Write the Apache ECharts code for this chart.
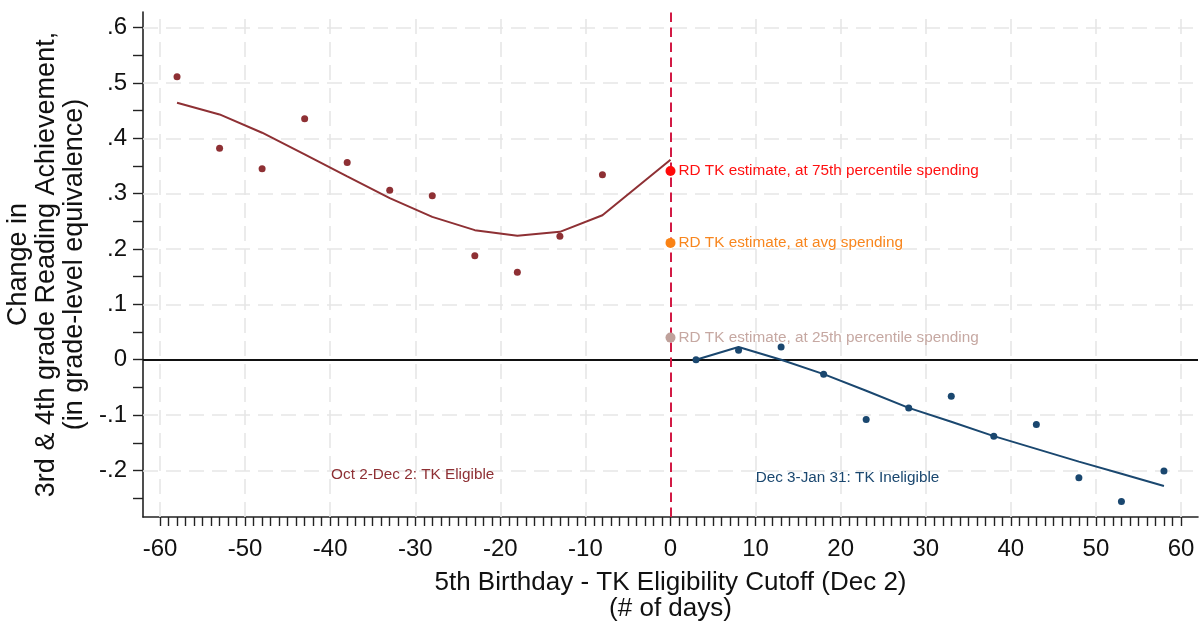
<!DOCTYPE html>
<html>
<head>
<meta charset="utf-8">
<script src="https://cdn.jsdelivr.net/npm/echarts@6/dist/echarts.min.js"></script>
<style>
  html, body { margin: 0; padding: 0; background: #fff; }
  #chart { width: 1203px; height: 622px; }
</style>
</head>
<body>
<div id="chart"></div>
<script>
// Binned means (every 5 days) of the change in reading achievement
const leftBinX = [-58, -53, -48, -43, -38, -33, -28, -23, -18, -13, -8];
const leftBinY = [0.511, 0.382, 0.345, 0.435, 0.356, 0.306, 0.296, 0.188, 0.158, 0.223, 0.334];
const rightBinX = [3, 8, 13, 18, 23, 28, 33, 38, 43, 48, 53, 58];
const rightBinY = [0.000, 0.017, 0.023, -0.026, -0.108, -0.087, -0.066, -0.138, -0.117, -0.213, -0.256, -0.201];

// Local fits on each side of the cutoff
const leftFitX = [-58, -53, -48, -43, -38, -33, -28, -23, -18, -13, -8, 0];
const leftFitY = [0.464, 0.443, 0.410, 0.371, 0.331, 0.292, 0.258, 0.234, 0.224, 0.231, 0.261, 0.361];
const rightFitX = [3, 8, 13, 18, 23, 28, 33, 38, 43, 48, 53, 58];
const rightFitY = [0.000, 0.023, 0.000, -0.026, -0.056, -0.087, -0.112, -0.138, -0.161, -0.184, -0.206, -0.228];

// RD estimates at the cutoff
const estimateNames = [
  'RD TK estimate, at 75th percentile spending',
  'RD TK estimate, at avg spending',
  'RD TK estimate, at 25th percentile spending'
];
const estimateValues = [0.341, 0.211, 0.040];
const estimateColors = ['#FF0A0A', '#FA8214', '#BFA19B'];
const estimateTextColors = ['#FF1010', '#F8861E', '#C6A8A2'];

// Region annotations
const regionTexts = ['Oct 2-Dec 2: TK Eligible', 'Dec 3-Jan 31: TK Ineligible'];
const regionAnchors = [[-30.3, -0.207], [20.8, -0.214]];

// Axis ticks, labels and grid
const xLabelVals = [-60, -50, -40, -30, -20, -10, 0, 10, 20, 30, 40, 50, 60];
const xTickVals = Array.from({ length: 121 }, (_, i) => i - 60);
const yLabelVals = [-0.2, -0.1, 0, 0.1, 0.2, 0.3, 0.4, 0.5, 0.6];
const yLabelText = ['-.2', '-.1', '0', '.1', '.2', '.3', '.4', '.5', '.6'];
const yTickVals = [-0.25, -0.2, -0.15, -0.1, -0.05, 0, 0.05, 0.1, 0.15, 0.2, 0.25, 0.3, 0.35, 0.4, 0.45, 0.5, 0.55, 0.6];
const gridXVals = [-60, -50, -40, -30, -20, -10, 10, 20, 30, 40, 50, 60];
const gridYVals = [-0.2, -0.1, 0.1, 0.2, 0.3, 0.4, 0.5, 0.6];

const MAROON = '#8E3034';
const NAVY = '#1A476F';
const FONT = "'Liberation Sans', Arial, sans-serif";

const zip = (xs, ys) => xs.map((x, i) => [x, ys[i]]);

const chart = echarts.init(document.getElementById('chart'), null, { renderer: 'canvas' });

const estimateSeries = estimateNames.map((name, i) => ({
  type: 'scatter',
  name: name,
  data: [[0, estimateValues[i]]],
  symbol: 'circle',
  symbolSize: 10,
  itemStyle: { color: estimateColors[i], opacity: 1 },
  z: 6,
  label: {
    show: true,
    position: 'right',
    distance: 3,
    formatter: name,
    color: estimateTextColors[i],
    fontSize: 15.3,
    fontFamily: FONT
  }
}));

const regionSeries = regionTexts.map((t, i) => ({
  type: 'scatter',
  data: [regionAnchors[i]],
  symbolSize: 0,
  itemStyle: { opacity: 1 },
  z: 3,
  label: {
    show: true,
    position: 'inside',
    formatter: t,
    color: i === 0 ? MAROON : NAVY,
    fontSize: 15.3,
    fontFamily: FONT
  }
}));

chart.setOption({
  animation: false,
  backgroundColor: '#ffffff',
  grid: { left: 143, right: 5, top: 12, bottom: 105, outerBoundsMode: 'none', containLabel: false },
  xAxis: {
    type: 'value',
    min: -62,
    max: 62,
    name: '5th Birthday - TK Eligibility Cutoff (Dec 2)\n(# of days)',
    nameLocation: 'middle',
    nameGap: 53,
    nameTextStyle: { fontSize: 26, color: '#111', fontFamily: FONT, lineHeight: 26 },
    axisLine: { onZero: false, lineStyle: { color: '#222', width: 1.6 } },
    axisTick: { customValues: xTickVals, length: 9, lineStyle: { color: '#222', width: 1.4 } },
    axisLabel: {
      customValues: xLabelVals,
      fontSize: 24,
      margin: 20,
      color: '#111',
      fontFamily: FONT
    },
    splitLine: { show: false }
  },
  yAxis: {
    type: 'value',
    min: -0.284,
    max: 0.628,
    name: 'Change in\n3rd & 4th grade Reading Achievement,\n(in grade-level equivalence)',
    nameLocation: 'middle',
    nameRotate: 90,
    nameGap: 50,
    nameTextStyle: { fontSize: 27, color: '#111', fontFamily: FONT, lineHeight: 28 },
    axisLine: { onZero: false, lineStyle: { color: '#222', width: 1.6 } },
    axisTick: { customValues: yTickVals, length: 10, lineStyle: { color: '#222', width: 1.4 } },
    axisLabel: {
      customValues: yLabelVals,
      fontSize: 24,
      margin: 16,
      color: '#111',
      fontFamily: FONT,
      formatter: (v) => {
        const k = yLabelVals.findIndex(u => Math.abs(u - v) < 1e-9);
        return k >= 0 ? yLabelText[k] : '';
      }
    },
    splitLine: { show: false }
  },
  series: [
    {
      // dashed reference grid
      type: 'line',
      data: [],
      z: 1,
      silent: true,
      markLine: {
        z: 1,
        silent: true,
        symbol: 'none',
        label: { show: false },
        lineStyle: { color: '#E6E6E6', width: 1.6, type: [15, 8] },
        data: gridXVals.map(v => ({ xAxis: v })).concat(gridYVals.map(v => ({ yAxis: v })))
      }
    },
    {
      // zero line and cutoff line
      type: 'line',
      data: [],
      z: 2,
      silent: true,
      markLine: {
        z: 2,
        silent: true,
        symbol: 'none',
        label: { show: false },
        data: [
          { yAxis: 0, lineStyle: { color: '#111', width: 1.8, type: 'solid' } },
          { xAxis: 0, lineStyle: { color: '#D21A44', width: 2, type: [9.5, 5.5] } }
        ]
      }
    },
    {
      type: 'line',
      data: zip(leftFitX, leftFitY),
      showSymbol: false,
      lineStyle: { color: MAROON, width: 2 },
      z: 4
    },
    {
      type: 'line',
      data: zip(rightFitX, rightFitY),
      showSymbol: false,
      lineStyle: { color: NAVY, width: 2 },
      z: 4
    },
    {
      type: 'scatter',
      data: zip(leftBinX, leftBinY),
      symbolSize: 7,
      itemStyle: { color: MAROON, opacity: 1 },
      z: 5
    },
    {
      type: 'scatter',
      data: zip(rightBinX, rightBinY),
      symbolSize: 7,
      itemStyle: { color: NAVY, opacity: 1 },
      z: 5
    },
    ...estimateSeries,
    ...regionSeries
  ]
});
</script>
</body>
</html>
